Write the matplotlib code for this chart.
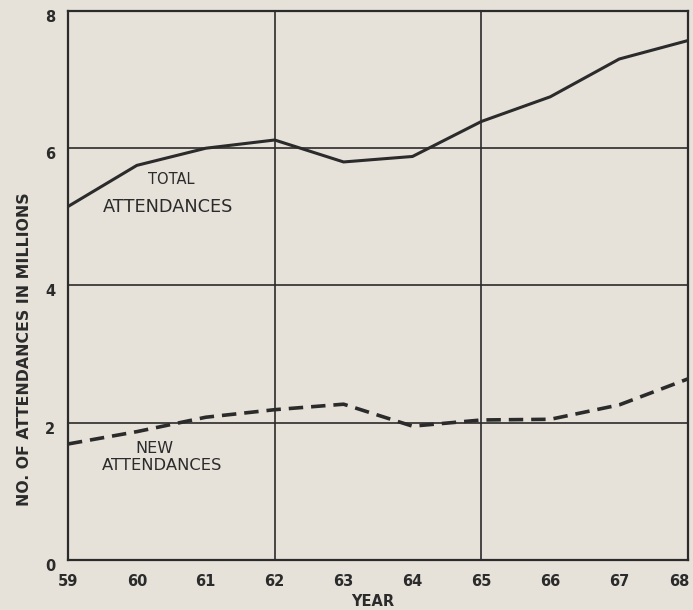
import matplotlib
matplotlib.use("Agg")
import matplotlib.pyplot as plt
import matplotlib.transforms as mtransforms
import numpy as np

# values (millions)
years = [59, 60, 61, 62, 63, 64, 65, 66, 67, 68]
total_attendances = [5.15, 5.75, 6.0, 6.12, 5.8, 5.88, 6.39, 6.75, 7.3, 7.57]
new_attendances = [1.69, 1.87, 2.08, 2.19, 2.27, 1.95, 2.04, 2.05, 2.26, 2.64]
y_ticks = [0, 2, 4, 6, 8]

bg = '#e6e2da'
ink = '#2b2b2b'

fig = plt.figure(figsize=(6.93, 6.10), dpi=100, facecolor=bg)
ax = fig.add_axes([0.098, 0.082, 0.895, 0.9])
ax.set_facecolor(bg)

ax.plot(years, total_attendances, color=ink, lw=2.2, solid_joinstyle='miter')
ax.plot(years, new_attendances, color=ink, lw=2.6, ls=(0, (4, 2.2)))

ax.set_xlim(59, 68)
ax.set_ylim(0, 8)
ax.set_xticks(years)
ax.set_yticks(y_ticks)
ax.tick_params(length=0, labelsize=10.5, colors=ink)
ax.tick_params(axis='x', pad=10)
ax.tick_params(axis='y', pad=9)
for lbl in ax.get_xticklabels() + ax.get_yticklabels():
    lbl.set_fontweight('bold')
# y labels sit a little below their grid lines, last year label pulled in
for lbl in ax.get_yticklabels():
    lbl.set_transform(lbl.get_transform() +
                      mtransforms.ScaledTranslation(0, -5 / 100, fig.dpi_scale_trans))
last = ax.get_xticklabels()[-1]
last.set_transform(last.get_transform() +
                   mtransforms.ScaledTranslation(-9 / 100, 0, fig.dpi_scale_trans))

# grid: every 3 years and every 2 million
for x in [62, 65]:
    ax.axvline(x, color=ink, lw=1.2)
for y in [2, 4, 6]:
    ax.axhline(y, color=ink, lw=1.2)
for s in ax.spines.values():
    s.set_color(ink)
    s.set_linewidth(1.6)

ax.set_xlabel('YEAR', fontsize=10.5, fontweight='bold', color=ink)
ax.xaxis.set_label_coords(0.491, -0.062)
ax.set_ylabel('NO. OF ATTENDANCES IN MILLIONS', fontsize=11.3, fontweight='bold',
              color=ink)
ax.yaxis.set_label_coords(-0.058, 0.384)

ax.text(60.5, 5.55, 'TOTAL', fontsize=10.5, color=ink, ha='center', va='center')
ax.text(60.45, 5.15, 'ATTENDANCES', fontsize=12.8, color=ink, ha='center', va='center')
ax.text(60.25, 1.63, 'NEW', fontsize=11.5, color=ink, ha='center', va='center')
ax.text(60.37, 1.37, 'ATTENDANCES', fontsize=11.8, color=ink, ha='center', va='center')

fig.savefig('out.png', dpi=100, facecolor=bg)
